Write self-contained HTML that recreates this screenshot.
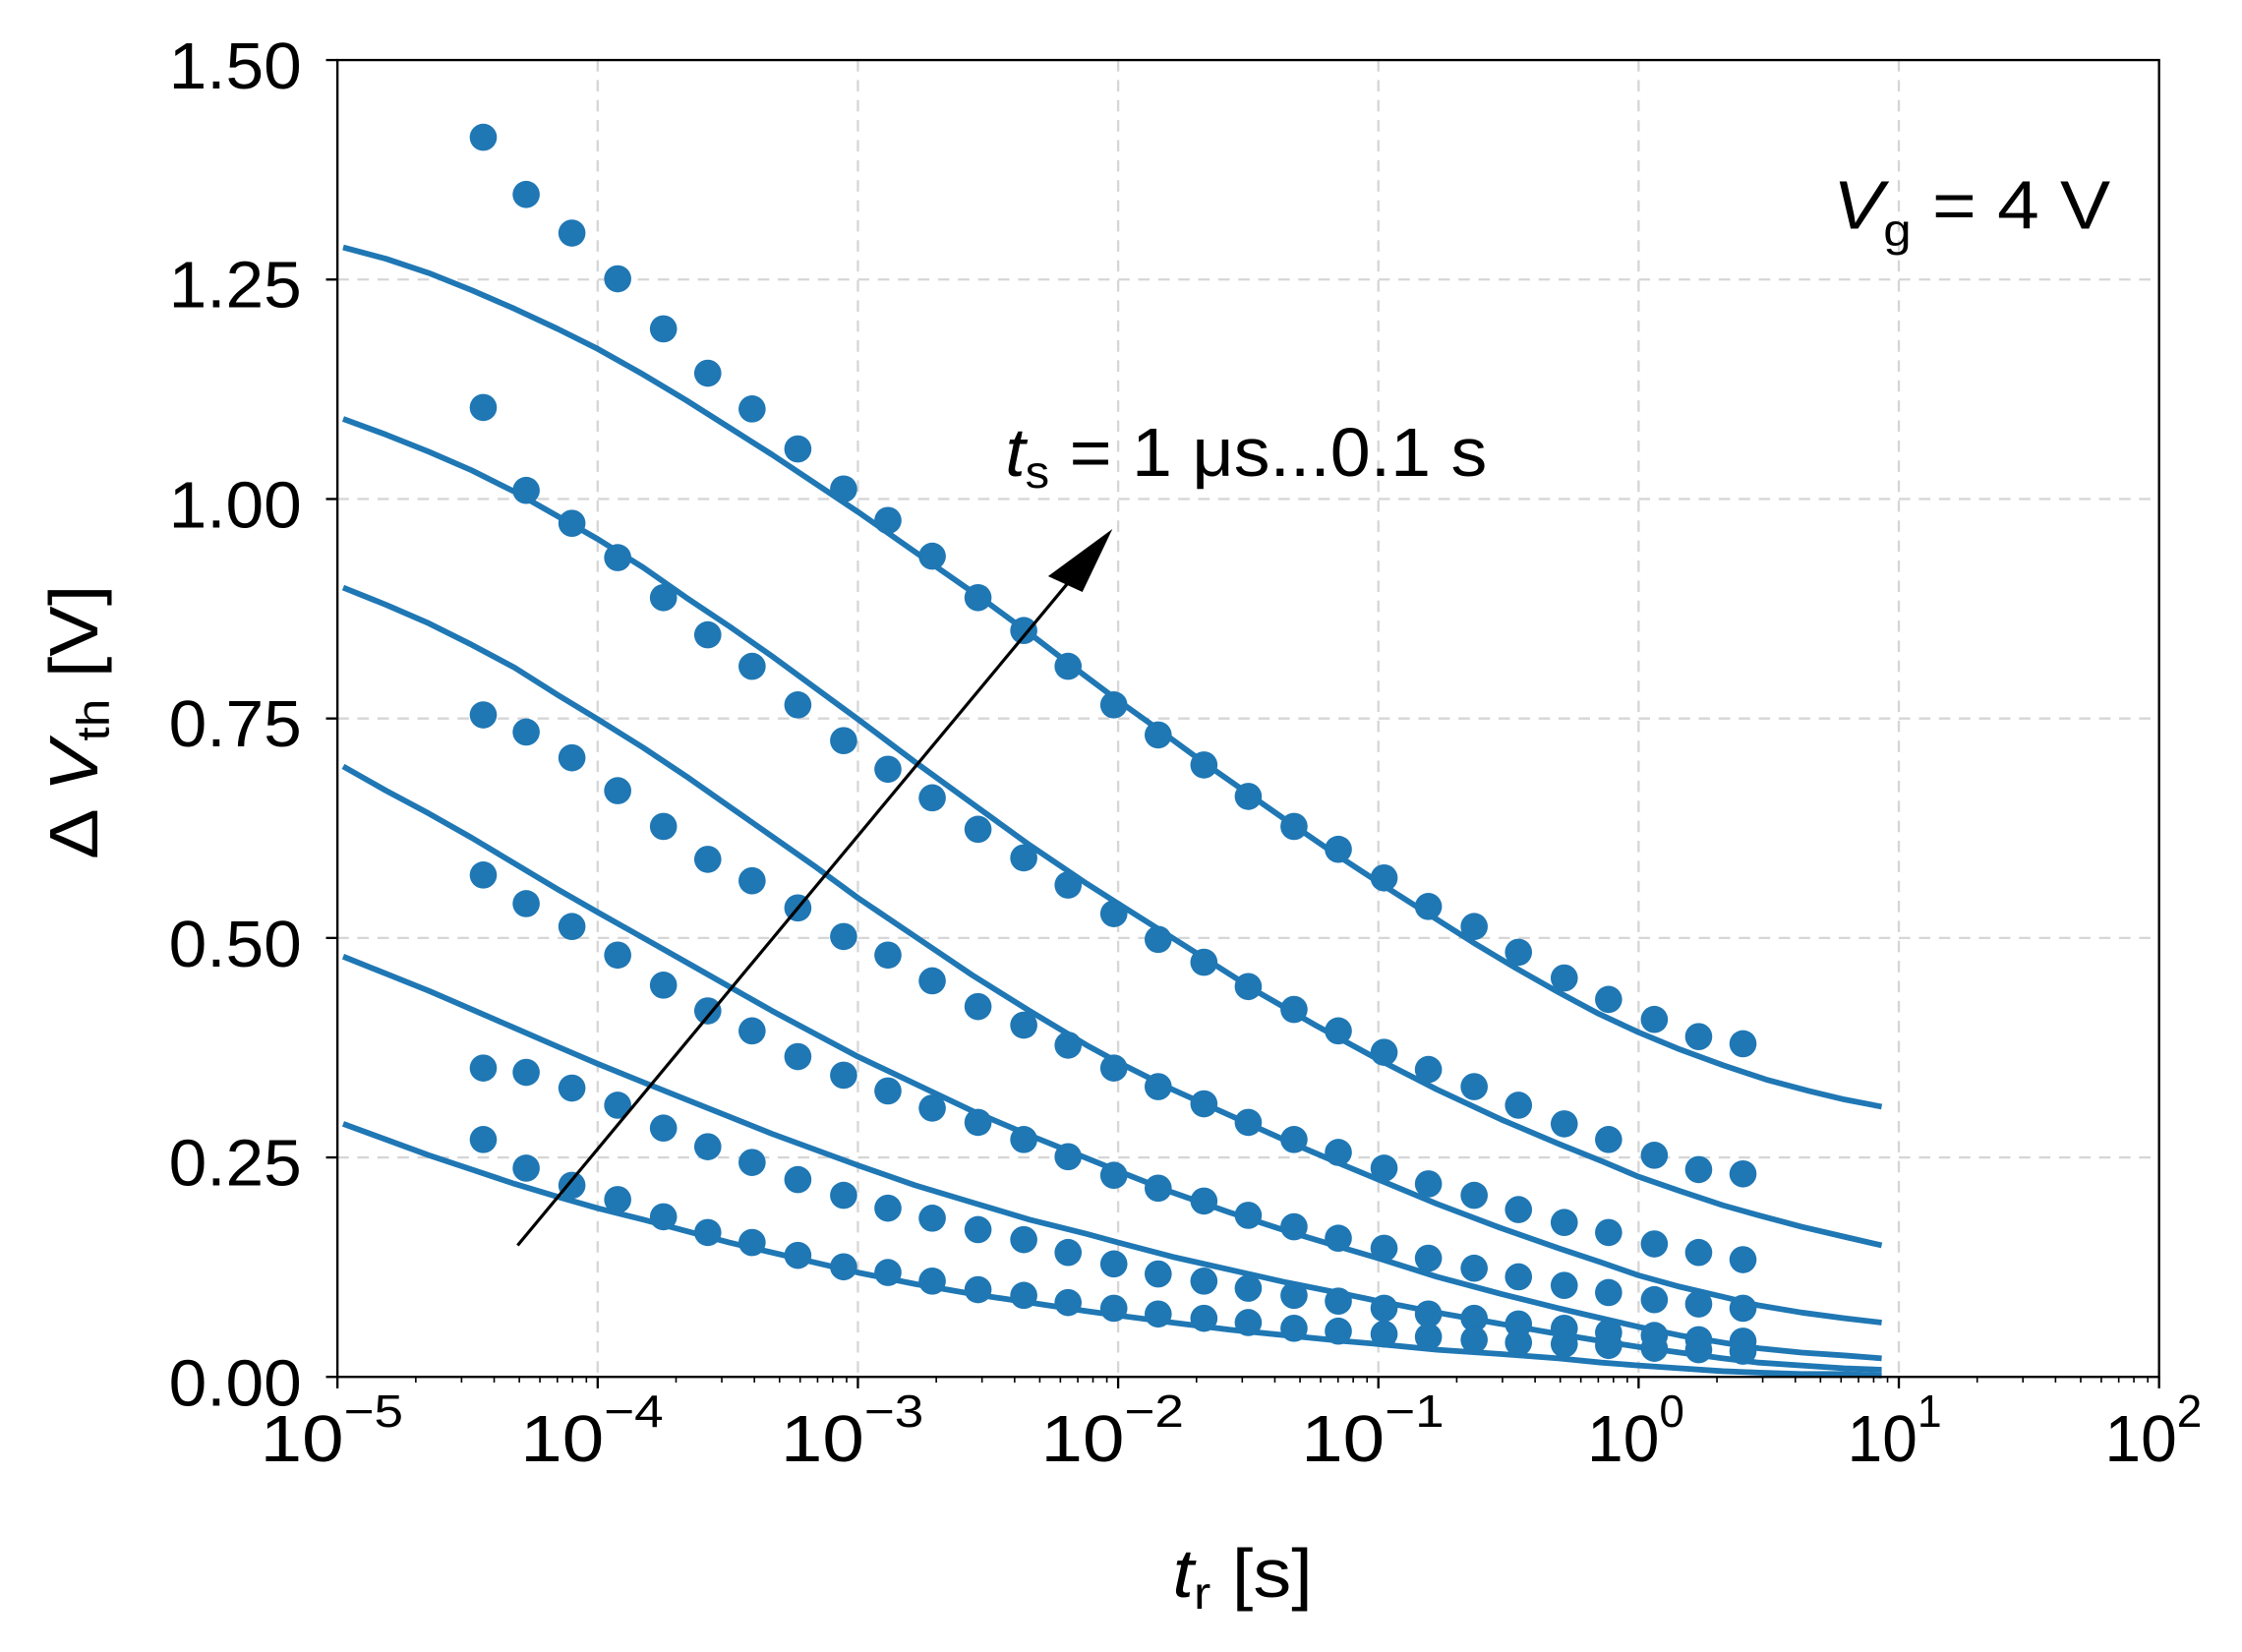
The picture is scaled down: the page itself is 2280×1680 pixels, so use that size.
<!DOCTYPE html>
<html><head><meta charset="utf-8"><style>
html,body{margin:0;padding:0;background:#fff}
svg{display:block}
text{font-family:"Liberation Sans",sans-serif;fill:#000}
</style></head><body>
<svg width="2280" height="1680" viewBox="0 0 1568 1155.4" preserveAspectRatio="none" xmlns="http://www.w3.org/2000/svg">
<g stroke="#d6d6d6" stroke-width="1.6" stroke-dasharray="8,6" fill="none">
<line x1="418" y1="42" x2="418" y2="963"/><line x1="600" y1="42" x2="600" y2="963"/><line x1="782" y1="42" x2="782" y2="963"/><line x1="964" y1="42" x2="964" y2="963"/><line x1="1146" y1="42" x2="1146" y2="963"/><line x1="1328" y1="42" x2="1328" y2="963"/>
<line x1="236" y1="809.5" x2="1510" y2="809.5"/><line x1="236" y1="656" x2="1510" y2="656"/><line x1="236" y1="502.5" x2="1510" y2="502.5"/><line x1="236" y1="349" x2="1510" y2="349"/><line x1="236" y1="195.5" x2="1510" y2="195.5"/>
</g>
<g stroke="#1f77b4" stroke-width="4" fill="none" stroke-linejoin="round">
<polyline points="240,173 270,181 300,191 330,203 360,216 390,230 418,244 450,262 480,280 510,299 540,318 570,338 600,358 630,379 660,400 690,421 720,443 750,466 782,490 810,510 840,532 870,553 900,574 932,596 964,617 997,638 1030,659 1060,677 1090,694 1118,709 1146,722 1175,734 1205,745 1235,755 1265,763 1290,769 1316,774"/>
<polyline points="240,293 270,304 300,316 330,329 360,344 390,361 418,377 450,397 480,418 510,438 540,459 570,481 600,503 640,533 680,562 720,591 760,618 782,632 820,656 850,675 880,694 920,717 964,741 1005,762 1050,783 1090,800 1120,812 1146,823 1175,833 1205,843 1230,850 1260,858 1290,865 1316,871"/>
<polyline points="240,411 270,423 300,436 330,451 360,467 390,486 418,503 450,523 480,543 510,564 540,585 570,606 600,628 640,655 680,682 720,707 760,731 782,743 820,762 860,780 900,798 940,815 964,825 1005,842 1050,859 1090,873 1120,883 1146,892 1175,900 1205,907 1230,913 1260,918 1290,922 1316,925"/>
<polyline points="240,536 270,553 300,569 330,586 360,604 390,622 418,638 450,656 480,673 510,690 540,707 570,723 600,739 640,758 680,777 720,794 760,810 782,819 820,834 860,848 900,861 940,873 964,880 1005,893 1050,905 1090,915 1120,922 1146,928 1175,934 1205,939 1230,943 1260,946 1290,948 1316,950"/>
<polyline points="240,669 270,681 300,693 330,706 360,719 390,732 418,744 450,757 480,769 510,781 540,793 570,804 600,815 640,829 680,841 720,853 760,863 782,869 820,879 860,888 900,897 940,905 964,910 1005,918 1050,926 1090,933 1120,938 1146,942 1175,946 1205,950 1230,953 1260,955 1290,957 1316,958"/>
<polyline points="240,786 270,797 300,808 330,818 360,828 390,837 418,845 450,853 480,861 510,869 540,876 570,883 600,890 640,898 680,905 720,911 760,917 782,920 820,925 860,930 900,934 940,938 964,940 1005,944 1050,947 1090,950 1120,953 1146,955 1175,957 1205,959 1230,960 1260,961 1290,961 1316,962"/>
</g>
<g fill="#1f77b4">
<circle cx="338" cy="96" r="9.5"/><circle cx="368" cy="136" r="9.5"/><circle cx="400" cy="163" r="9.5"/><circle cx="432" cy="195" r="9.5"/><circle cx="464" cy="230" r="9.5"/><circle cx="495" cy="261" r="9.5"/><circle cx="526" cy="286" r="9.5"/><circle cx="558" cy="314" r="9.5"/><circle cx="590" cy="342" r="9.5"/><circle cx="621" cy="364" r="9.5"/><circle cx="652" cy="389" r="9.5"/><circle cx="684" cy="418" r="9.5"/><circle cx="716" cy="441" r="9.5"/><circle cx="747" cy="466" r="9.5"/><circle cx="779" cy="493" r="9.5"/><circle cx="810" cy="514" r="9.5"/><circle cx="842" cy="535" r="9.5"/><circle cx="873" cy="557" r="9.5"/><circle cx="905" cy="578" r="9.5"/><circle cx="936" cy="594" r="9.5"/><circle cx="968" cy="614" r="9.5"/><circle cx="999" cy="634" r="9.5"/><circle cx="1031" cy="648" r="9.5"/><circle cx="1062" cy="666" r="9.5"/><circle cx="1094" cy="684" r="9.5"/><circle cx="1125" cy="699" r="9.5"/><circle cx="1157" cy="713" r="9.5"/><circle cx="1188" cy="725" r="9.5"/><circle cx="1219" cy="730" r="9.5"/>
<circle cx="338" cy="285" r="9.5"/><circle cx="368" cy="343" r="9.5"/><circle cx="400" cy="366" r="9.5"/><circle cx="432" cy="390" r="9.5"/><circle cx="464" cy="418" r="9.5"/><circle cx="495" cy="444" r="9.5"/><circle cx="526" cy="466" r="9.5"/><circle cx="558" cy="493" r="9.5"/><circle cx="590" cy="518" r="9.5"/><circle cx="621" cy="538" r="9.5"/><circle cx="652" cy="558" r="9.5"/><circle cx="684" cy="580" r="9.5"/><circle cx="716" cy="600" r="9.5"/><circle cx="747" cy="619" r="9.5"/><circle cx="779" cy="639" r="9.5"/><circle cx="810" cy="657" r="9.5"/><circle cx="842" cy="673" r="9.5"/><circle cx="873" cy="690" r="9.5"/><circle cx="905" cy="706" r="9.5"/><circle cx="936" cy="721" r="9.5"/><circle cx="968" cy="736" r="9.5"/><circle cx="999" cy="748" r="9.5"/><circle cx="1031" cy="760" r="9.5"/><circle cx="1062" cy="773" r="9.5"/><circle cx="1094" cy="786" r="9.5"/><circle cx="1125" cy="797" r="9.5"/><circle cx="1157" cy="808" r="9.5"/><circle cx="1188" cy="818" r="9.5"/><circle cx="1219" cy="821" r="9.5"/>
<circle cx="338" cy="500" r="9.5"/><circle cx="368" cy="512" r="9.5"/><circle cx="400" cy="530" r="9.5"/><circle cx="432" cy="553" r="9.5"/><circle cx="464" cy="578" r="9.5"/><circle cx="495" cy="601" r="9.5"/><circle cx="526" cy="616" r="9.5"/><circle cx="558" cy="635" r="9.5"/><circle cx="590" cy="655" r="9.5"/><circle cx="621" cy="668" r="9.5"/><circle cx="652" cy="686" r="9.5"/><circle cx="684" cy="704" r="9.5"/><circle cx="716" cy="717" r="9.5"/><circle cx="747" cy="731" r="9.5"/><circle cx="779" cy="747" r="9.5"/><circle cx="810" cy="760" r="9.5"/><circle cx="842" cy="772" r="9.5"/><circle cx="873" cy="785" r="9.5"/><circle cx="905" cy="797" r="9.5"/><circle cx="936" cy="806" r="9.5"/><circle cx="968" cy="817" r="9.5"/><circle cx="999" cy="828" r="9.5"/><circle cx="1031" cy="836" r="9.5"/><circle cx="1062" cy="846" r="9.5"/><circle cx="1094" cy="855" r="9.5"/><circle cx="1125" cy="862" r="9.5"/><circle cx="1157" cy="870" r="9.5"/><circle cx="1188" cy="876" r="9.5"/><circle cx="1219" cy="881" r="9.5"/>
<circle cx="338" cy="612" r="9.5"/><circle cx="368" cy="632" r="9.5"/><circle cx="400" cy="648" r="9.5"/><circle cx="432" cy="668" r="9.5"/><circle cx="464" cy="689" r="9.5"/><circle cx="495" cy="707" r="9.5"/><circle cx="526" cy="721" r="9.5"/><circle cx="558" cy="739" r="9.5"/><circle cx="590" cy="752" r="9.5"/><circle cx="621" cy="763" r="9.5"/><circle cx="652" cy="775" r="9.5"/><circle cx="684" cy="785" r="9.5"/><circle cx="716" cy="797" r="9.5"/><circle cx="747" cy="809" r="9.5"/><circle cx="779" cy="822" r="9.5"/><circle cx="810" cy="831" r="9.5"/><circle cx="842" cy="840" r="9.5"/><circle cx="873" cy="850" r="9.5"/><circle cx="905" cy="858" r="9.5"/><circle cx="936" cy="866" r="9.5"/><circle cx="968" cy="873" r="9.5"/><circle cx="999" cy="880" r="9.5"/><circle cx="1031" cy="887" r="9.5"/><circle cx="1062" cy="893" r="9.5"/><circle cx="1094" cy="899" r="9.5"/><circle cx="1125" cy="904" r="9.5"/><circle cx="1157" cy="909" r="9.5"/><circle cx="1188" cy="912" r="9.5"/><circle cx="1219" cy="915" r="9.5"/>
<circle cx="338" cy="747" r="9.5"/><circle cx="368" cy="750" r="9.5"/><circle cx="400" cy="761" r="9.5"/><circle cx="432" cy="773" r="9.5"/><circle cx="464" cy="789" r="9.5"/><circle cx="495" cy="802" r="9.5"/><circle cx="526" cy="813" r="9.5"/><circle cx="558" cy="825" r="9.5"/><circle cx="590" cy="836" r="9.5"/><circle cx="621" cy="845" r="9.5"/><circle cx="652" cy="852" r="9.5"/><circle cx="684" cy="860" r="9.5"/><circle cx="716" cy="867" r="9.5"/><circle cx="747" cy="876" r="9.5"/><circle cx="779" cy="884" r="9.5"/><circle cx="810" cy="891" r="9.5"/><circle cx="842" cy="896" r="9.5"/><circle cx="873" cy="901" r="9.5"/><circle cx="905" cy="906" r="9.5"/><circle cx="936" cy="910" r="9.5"/><circle cx="968" cy="915" r="9.5"/><circle cx="999" cy="919" r="9.5"/><circle cx="1031" cy="922" r="9.5"/><circle cx="1062" cy="926" r="9.5"/><circle cx="1094" cy="929" r="9.5"/><circle cx="1125" cy="932" r="9.5"/><circle cx="1157" cy="934" r="9.5"/><circle cx="1188" cy="937" r="9.5"/><circle cx="1219" cy="938" r="9.5"/>
<circle cx="338" cy="797" r="9.5"/><circle cx="368" cy="817" r="9.5"/><circle cx="400" cy="829" r="9.5"/><circle cx="432" cy="839" r="9.5"/><circle cx="464" cy="851" r="9.5"/><circle cx="495" cy="862" r="9.5"/><circle cx="526" cy="869" r="9.5"/><circle cx="558" cy="878" r="9.5"/><circle cx="590" cy="886" r="9.5"/><circle cx="621" cy="890" r="9.5"/><circle cx="652" cy="896" r="9.5"/><circle cx="684" cy="902" r="9.5"/><circle cx="716" cy="906" r="9.5"/><circle cx="747" cy="911" r="9.5"/><circle cx="779" cy="915" r="9.5"/><circle cx="810" cy="919" r="9.5"/><circle cx="842" cy="922" r="9.5"/><circle cx="873" cy="925" r="9.5"/><circle cx="905" cy="929" r="9.5"/><circle cx="936" cy="931" r="9.5"/><circle cx="968" cy="933" r="9.5"/><circle cx="999" cy="935" r="9.5"/><circle cx="1031" cy="937" r="9.5"/><circle cx="1062" cy="939" r="9.5"/><circle cx="1094" cy="940" r="9.5"/><circle cx="1125" cy="941" r="9.5"/><circle cx="1157" cy="943" r="9.5"/><circle cx="1188" cy="944" r="9.5"/><circle cx="1219" cy="945" r="9.5"/>
</g>
<line x1="362" y1="871" x2="750" y2="404" stroke="#000" stroke-width="2.2"/>
<polygon points="778,370 733,403 757,414" fill="#000"/>
<rect x="236" y="42" width="1274" height="921" fill="none" stroke="#000" stroke-width="1.6"/>
<g stroke="#000" stroke-width="1.6">
<line x1="228" y1="963" x2="236" y2="963"/><line x1="228" y1="809.5" x2="236" y2="809.5"/><line x1="228" y1="656" x2="236" y2="656"/><line x1="228" y1="502.5" x2="236" y2="502.5"/><line x1="228" y1="349" x2="236" y2="349"/><line x1="228" y1="195.5" x2="236" y2="195.5"/><line x1="228" y1="42" x2="236" y2="42"/>
<line x1="236" y1="963" x2="236" y2="971"/><line x1="418" y1="963" x2="418" y2="971"/><line x1="600" y1="963" x2="600" y2="971"/><line x1="782" y1="963" x2="782" y2="971"/><line x1="964" y1="963" x2="964" y2="971"/><line x1="1146" y1="963" x2="1146" y2="971"/><line x1="1328" y1="963" x2="1328" y2="971"/><line x1="1510" y1="963" x2="1510" y2="971"/>
</g>
<g stroke="#000" stroke-width="1.1">
<path d="M290.8,963v4M322.8,963v4M345.6,963v4M363.2,963v4M377.6,963v4M389.8,963v4M400.4,963v4M410.1,963v4
M472.8,963v4M504.8,963v4M527.6,963v4M545.2,963v4M559.6,963v4M571.8,963v4M582.4,963v4M592.1,963v4
M654.8,963v4M686.8,963v4M709.6,963v4M727.2,963v4M741.6,963v4M753.8,963v4M764.4,963v4M774.1,963v4
M836.8,963v4M868.8,963v4M891.6,963v4M909.2,963v4M923.6,963v4M935.8,963v4M946.4,963v4M956.1,963v4
M1018.8,963v4M1050.8,963v4M1073.6,963v4M1091.2,963v4M1105.6,963v4M1117.8,963v4M1128.4,963v4M1138.1,963v4
M1200.8,963v4M1232.8,963v4M1255.6,963v4M1273.2,963v4M1287.6,963v4M1299.8,963v4M1310.4,963v4M1320.1,963v4
M1382.8,963v4M1414.8,963v4M1437.6,963v4M1455.2,963v4M1469.6,963v4M1481.8,963v4M1492.4,963v4M1502.1,963v4"/>
</g>
<g font-size="46">
<text x="118" y="983" textLength="93" lengthAdjust="spacingAndGlyphs">0.00</text>
<text x="118" y="829" textLength="93" lengthAdjust="spacingAndGlyphs">0.25</text>
<text x="118" y="676" textLength="93" lengthAdjust="spacingAndGlyphs">0.50</text>
<text x="118" y="522" textLength="93" lengthAdjust="spacingAndGlyphs">0.75</text>
<text x="118" y="369" textLength="93" lengthAdjust="spacingAndGlyphs">1.00</text>
<text x="118" y="215" textLength="93" lengthAdjust="spacingAndGlyphs">1.25</text>
<text x="118" y="62" textLength="93" lengthAdjust="spacingAndGlyphs">1.50</text>
</g>
<g font-size="46">
<text x="182" y="1022" textLength="100" lengthAdjust="spacingAndGlyphs">10<tspan font-size="32" dy="-24">−5</tspan></text>
<text x="364" y="1022" textLength="100" lengthAdjust="spacingAndGlyphs">10<tspan font-size="32" dy="-24">−4</tspan></text>
<text x="546" y="1022" textLength="100" lengthAdjust="spacingAndGlyphs">10<tspan font-size="32" dy="-24">−3</tspan></text>
<text x="728" y="1022" textLength="100" lengthAdjust="spacingAndGlyphs">10<tspan font-size="32" dy="-24">−2</tspan></text>
<text x="910" y="1022" textLength="100" lengthAdjust="spacingAndGlyphs">10<tspan font-size="32" dy="-24">−1</tspan></text>
<text x="1110" y="1022" textLength="68" lengthAdjust="spacingAndGlyphs">10<tspan font-size="32" dy="-24">0</tspan></text>
<text x="1292" y="1022" textLength="66" lengthAdjust="spacingAndGlyphs">10<tspan font-size="32" dy="-24">1</tspan></text>
<text x="1472" y="1022" textLength="68" lengthAdjust="spacingAndGlyphs">10<tspan font-size="32" dy="-24">2</tspan></text>
</g>
<text x="820" y="1117" font-size="48" textLength="98" lengthAdjust="spacingAndGlyphs"><tspan font-style="italic">t</tspan><tspan font-size="32" dy="8">r</tspan><tspan dy="-8"> [s]</tspan></text>
<text transform="translate(68,505) rotate(-90)" text-anchor="middle" font-size="48" textLength="192" lengthAdjust="spacingAndGlyphs">Δ <tspan font-style="italic">V</tspan><tspan font-size="32" dy="8">th</tspan><tspan dy="-8"> [V]</tspan></text>
<text x="703" y="333" font-size="48" textLength="337" lengthAdjust="spacingAndGlyphs"><tspan font-style="italic">t</tspan><tspan font-size="32" dy="8">s</tspan><tspan dy="-8"> = 1 μs...0.1 s</tspan></text>
<text x="1282" y="160" font-size="48" textLength="194" lengthAdjust="spacingAndGlyphs"><tspan font-style="italic">V</tspan><tspan font-size="32" dy="12">g</tspan><tspan dy="-12"> = 4 V</tspan></text>
</svg>
</body></html>
